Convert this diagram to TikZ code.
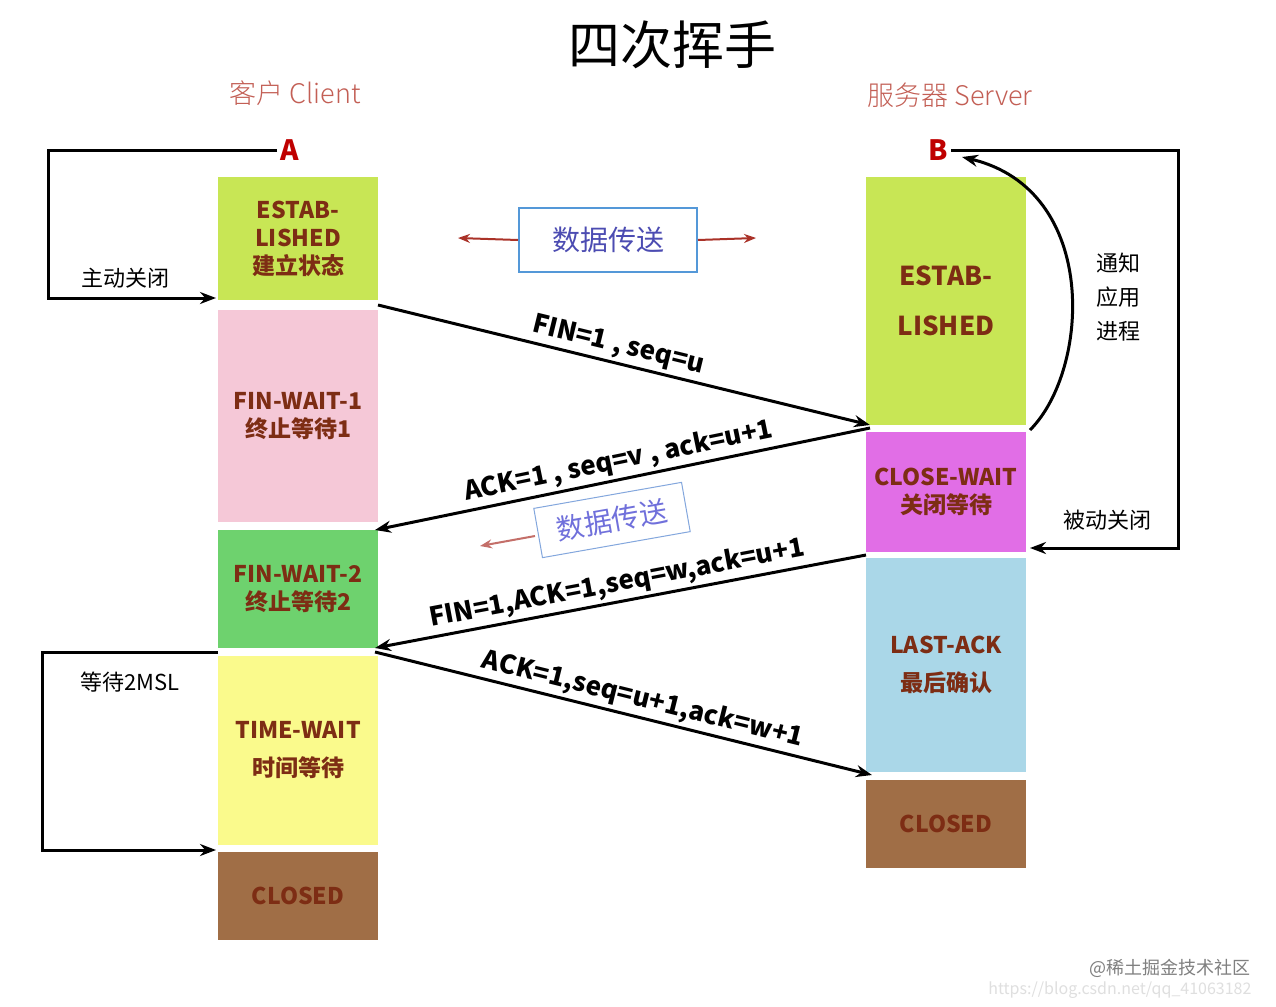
\documentclass[tikz,border=0pt]{standalone}
\usepackage{fontspec}
\setmainfont{Noto Sans CJK SC}
\newfontfamily\lite{Noto Sans CJK SC Light}
\usetikzlibrary{arrows.meta}
\definecolor{txt}{RGB}{125,45,20}
\definecolor{cgreen}{RGB}{200,230,85}
\definecolor{cpink}{RGB}{245,200,215}
\definecolor{cg2}{RGB}{110,210,110}
\definecolor{cyel}{RGB}{250,250,140}
\definecolor{cbrown}{RGB}{160,110,70}
\definecolor{cmag}{RGB}{225,110,230}
\definecolor{cblue}{RGB}{170,215,232}
\definecolor{hdr}{RGB}{195,95,85}
\definecolor{dred}{RGB}{170,50,40}
\begin{document}
\begin{tikzpicture}[x=1pt,y=-1pt,
 st/.style={draw=none,minimum width=160pt,text=txt,font=\fontsize{23}{28}\selectfont\bfseries,align=center,inner sep=0pt},
 msg/.style={line width=3pt,-{Stealth[length=16pt,width=12pt]}},
 lp/.style={line width=3pt,-{Stealth[length=16pt,width=12pt]}},
 lab/.style={font=\fontsize{26}{28}\selectfont\bfseries,sloped,above,inner sep=3pt},
 side/.style={font=\fontsize{22}{24}\selectfont}]
\useasboundingbox[fill=white] (0,0) rectangle (1276,1006);
\node (title) at (672,45) {\fontsize{52}{56}\selectfont 四次挥手};
\node[text=hdr,font=\fontsize{27}{30}\selectfont\lite] (hc) at (295,93) {客户 Client};
\node[text=hdr,font=\fontsize{27}{30}\selectfont\lite] (hs) at (950,95) {服务器 Server};
\node[text=red!75!black,font=\fontsize{28}{30}\selectfont\bfseries] (A) at (290,150) {A};
\node[text=red!75!black,font=\fontsize{28}{30}\selectfont\bfseries] (B) at (938,150) {B};
% client
\node[st,fill=cgreen,minimum height=123pt] (c1) at (298,238.5) {ESTAB-\\LISHED\\建立状态};
\node[st,fill=cpink,minimum height=212pt] (c2) at (298,416) {FIN-WAIT-1\\终止等待1};
\node[st,fill=cg2,minimum height=118pt] (c3) at (298,589) {FIN-WAIT-2\\终止等待2};
\node[st,fill=cyel,minimum height=189pt] (c4) at (298,750.5) {TIME-WAIT\\[10pt]时间等待};
\node[st,fill=cbrown,minimum height=88pt] (c5) at (298,896) {CLOSED};
% server
\node[st,fill=cgreen,minimum height=248pt,font=\fontsize{26}{50}\selectfont\bfseries] (s1) at (946,301) {ESTAB-\\LISHED};
\node[st,fill=cmag,minimum height=120pt] (s2) at (946,492) {CLOSE-WAIT\\关闭等待};
\node[st,fill=cblue,minimum height=214pt] (s3) at (946,665) {LAST-ACK\\[10pt]最后确认};
\node[st,fill=cbrown,minimum height=88pt] (s4) at (946,824) {CLOSED};
% coordinates
\coordinate (a1) at (378,305); \coordinate (b1) at (870,425);
\coordinate (b2) at (870,428); \coordinate (a2) at (375,530);
\coordinate (b3) at (866,555); \coordinate (a3) at (375,648);
\coordinate (a4) at (375,652); \coordinate (b4) at (872,775);
\draw[msg] (a1) -- node[lab,pos=0.48]{FIN=1 , seq=u} (b1);
\draw[msg] (b2) -- node[lab,pos=0.5]{ACK=1 , seq=v , ack=u+1} (a2);
\draw[msg] (b3) -- node[lab,pos=0.5]{FIN=1,ACK=1,seq=w,ack=u+1} (a3);
\draw[msg] (a4) -- node[lab,pos=0.53]{ACK=1,seq=u+1,ack=w+1} (b4);
% loops
\coordinate (l1) at (48,150); \coordinate (l2) at (48,298); \coordinate (l3) at (216,298);
\draw[lp] (A.west) -- (l1) -- (l2) -- (l3);
\node[side] (zd) at (125,278) {主动关闭};
\coordinate (m1) at (42,652); \coordinate (m2) at (42,850); \coordinate (m3) at (216,850);
\draw[lp] (218,652) -- (m1) -- (m2) -- (m3);
\node[side] (w2) at (130,682) {等待2MSL};
\coordinate (r1) at (1178,150); \coordinate (r2) at (1178,548); \coordinate (r3) at (1030,548);
\draw[lp] (B.east) -- (r1) -- (r2) -- (r3);
\node[side] (bd) at (1107,520) {被动关闭};
\coordinate (q1) at (1030,430); \coordinate (q2) at (962,157);
\draw[lp] (q1) .. controls (1090,370) and (1100,190) .. (q2);
\node[side,align=center] (tz) at (1118,297) {通知\\[10pt]应用\\[10pt]进程};
% data transfer
\node[draw=cyan!60!blue!70,line width=2pt,text=gray!60!blue,font=\fontsize{28}{30}\selectfont,minimum width=178pt,minimum height=64pt] (dt) at (608,240) {数据传送};
\coordinate (dl) at (458,238); \coordinate (dr) at (756,238);
\draw[dred,line width=2pt,-{Stealth[length=12pt]}] (dt.west) -- (dl);
\draw[dred,line width=2pt,-{Stealth[length=12pt]}] (dt.east) -- (dr);
\node[draw=cyan!50!blue!50,line width=1pt,text=gray!40!blue!70,font=\fontsize{28}{30}\selectfont,rotate=10,minimum width=150pt,minimum height=50pt] (dt2) at (612,520) {数据传送};
\coordinate (dl2) at (480,546);
\draw[dred!70,line width=2pt,-{Stealth[length=12pt]}] (535,536) -- (dl2);
\node[text=gray,font=\fontsize{18}{20}\selectfont] (wm) at (1170,968) {@稀土掘金技术社区};
\node[text=gray!25,font=\fontsize{16}{18}\selectfont,anchor=east] (url) at (1255,990) {https://blog.csdn.net/qq\_41063182};
\end{tikzpicture}
\end{document}
